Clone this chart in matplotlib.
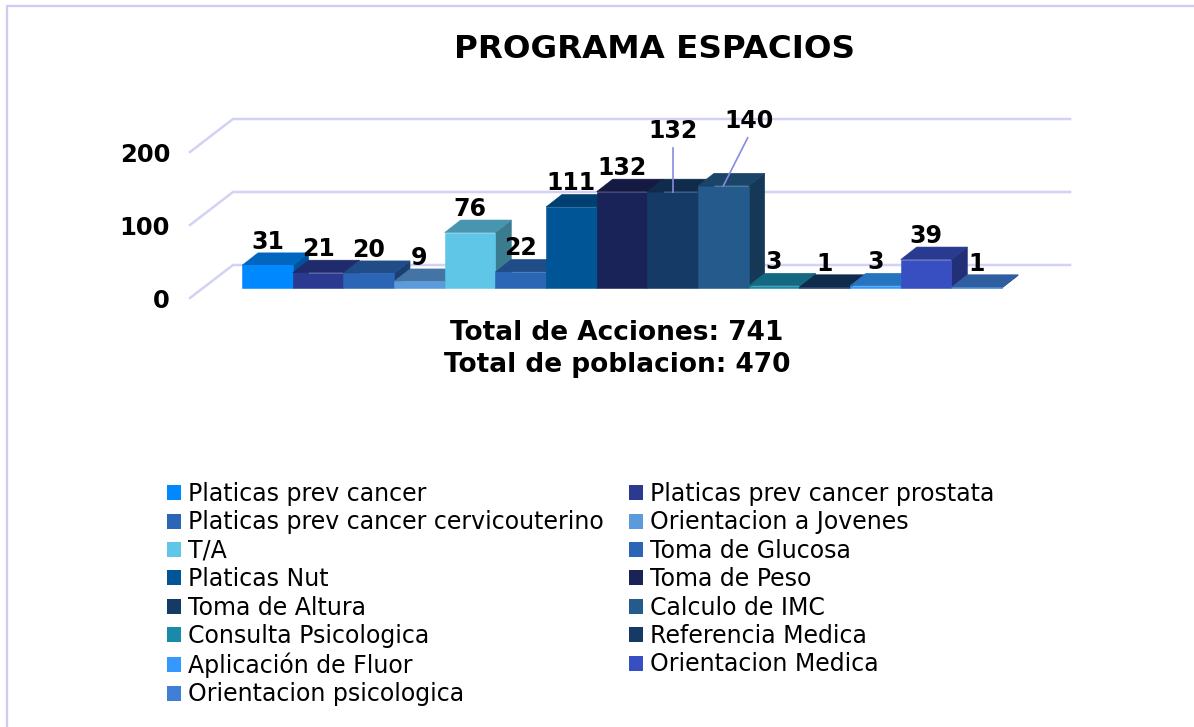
import matplotlib
matplotlib.use('Agg')
import matplotlib.pyplot as plt
from matplotlib.patches import Polygon, Patch
from matplotlib.lines import Line2D
from matplotlib.colors import to_rgb

categories = ['Platicas prev cancer', 'Platicas prev cancer prostata',
              'Platicas prev cancer cervicouterino', 'Orientacion a Jovenes',
              'T/A', 'Toma de Glucosa', 'Platicas Nut', 'Toma de Peso',
              'Toma de Altura', 'Calculo de IMC', 'Consulta Psicologica',
              'Referencia Medica', 'Aplicación de Fluor', 'Orientacion Medica',
              'Orientacion psicologica']
values = [31, 21, 20, 9, 76, 22, 111, 132, 132, 140, 3, 1, 3, 39, 1]
colors = ['#0088FF', '#2B3990', '#2A66B5', '#5B9BDB', '#5FC6E8',
          '#2A66B5', '#005596', '#1A2358', '#153A66', '#245A8C',
          '#1A8AAA', '#153A66', '#3399FF', '#374FC0', '#3F7FD6']
y_ticks = [0, 100, 200]

W, H = 1194, 727
PX_X = 50.67      # pixels for one category
PX_Y = 0.73       # pixels for one unit
X0, Y0 = 242, 288 # pixel position of the chart origin
BAR_DX, BAR_DY = 16 / PX_X, 12.5 / PX_Y   # depth of a bar
GRID_COLOR = '#D2D2F6'

fig = plt.figure(figsize=(W / 100, H / 100), dpi=100, facecolor='white')
ax = fig.add_axes([0, 0, 1, 1])
ax.set_xlim(-X0 / PX_X, (W - X0) / PX_X)
ax.set_ylim(-(H - Y0) / PX_Y, Y0 / PX_Y)
ax.axis('off')


def shade(color, f):
    return tuple(c * f for c in to_rgb(color))


# Back wall gridlines with the slanted floor part
wall_x = (233 - X0) / PX_X
front_x = (190 - X0) / PX_X
right_x = (1070 - X0) / PX_X
wall_dy = 23 / PX_Y
front_dy = -10 / PX_Y
for t in y_ticks:
    ax.plot([front_x, wall_x, right_x], [t + front_dy, t + wall_dy, t + wall_dy],
            color=GRID_COLOR, lw=1.8, solid_joinstyle='miter', zorder=1)
    ax.text((170 - X0) / PX_X, t + front_dy - 2.5 / PX_Y, str(t), ha='right', va='center',
            fontsize=17.5, fontweight='bold', color='black', zorder=5)

# Bars, left to right so the next one covers the side of the previous
for i, (v, c) in enumerate(zip(values, colors)):
    side = shade(c, 0.62)
    top = shade(c, 0.75)
    ax.add_patch(Polygon([(i + 1, 0), (i + 1 + BAR_DX, BAR_DY), (i + 1 + BAR_DX, v + BAR_DY), (i + 1, v)],
                         closed=True, fc=side, ec=side, lw=0.4, zorder=2))
    ax.add_patch(Polygon([(i, v), (i + BAR_DX, v + BAR_DY), (i + 1 + BAR_DX, v + BAR_DY), (i + 1, v)],
                         closed=True, fc=top, ec=top, lw=0.4, zorder=2))
    ax.bar(i + 0.5, v, width=1, color=c, ec=c, lw=0.4, zorder=2)

# Value labels, two of them pulled up with leader lines
for i, v in enumerate(values):
    x, y = i + 0.5, v + 16.5 / PX_Y
    if i == 8:
        y = v + 54 / PX_Y
        ax.plot([x, x], [v, v + 44 / PX_Y], color='#8A8AE0', lw=1.2, zorder=4)
    if i == 9:
        x, y = i + 1.0, v + 58 / PX_Y
        ax.plot([i + 0.5, i + 0.98], [v + 0 / PX_Y, v + 48 / PX_Y], color='#8A8AE0', lw=1.2, zorder=4)
    ax.text(x, y, str(v), ha='center', va='baseline', fontsize=17,
            fontweight='bold', color='black', zorder=5)

fig.text(655 / W, 1 - 49 / H, 'PROGRAMA ESPACIOS', ha='center', va='center',
         fontsize=23.4, fontweight='bold', color='black')
fig.text(617 / W, 1 - 333 / H, 'Total de Acciones: 741', ha='center', va='center',
         fontsize=19, fontweight='bold', color='black')
fig.text(617 / W, 1 - 365 / H, 'Total de poblacion: 470', ha='center', va='center',
         fontsize=19, fontweight='bold', color='black')

# Legend reads row by row in the reference, matplotlib fills by column
order = list(range(0, 15, 2)) + list(range(1, 15, 2))
handles = [Patch(fc=colors[i], ec='none', label=categories[i]) for i in order]
fig.legend(handles=handles, ncols=2, loc='upper left', bbox_to_anchor=(167 / W, 1 - 482 / H),
           frameon=False, fontsize=17, handlelength=0.6, handleheight=0.6,
           handletextpad=0.27, labelspacing=0.187, columnspacing=1.1,
           borderpad=0.0, borderaxespad=0.0)

# Outer frame
fig.add_artist(Line2D([7 / W, 7 / W, 1], [0, 1 - 6 / H, 1 - 6 / H],
                      transform=fig.transFigure, color='#CCCCF2', lw=1.6))

fig.savefig('out.png', dpi=100, facecolor='white')
